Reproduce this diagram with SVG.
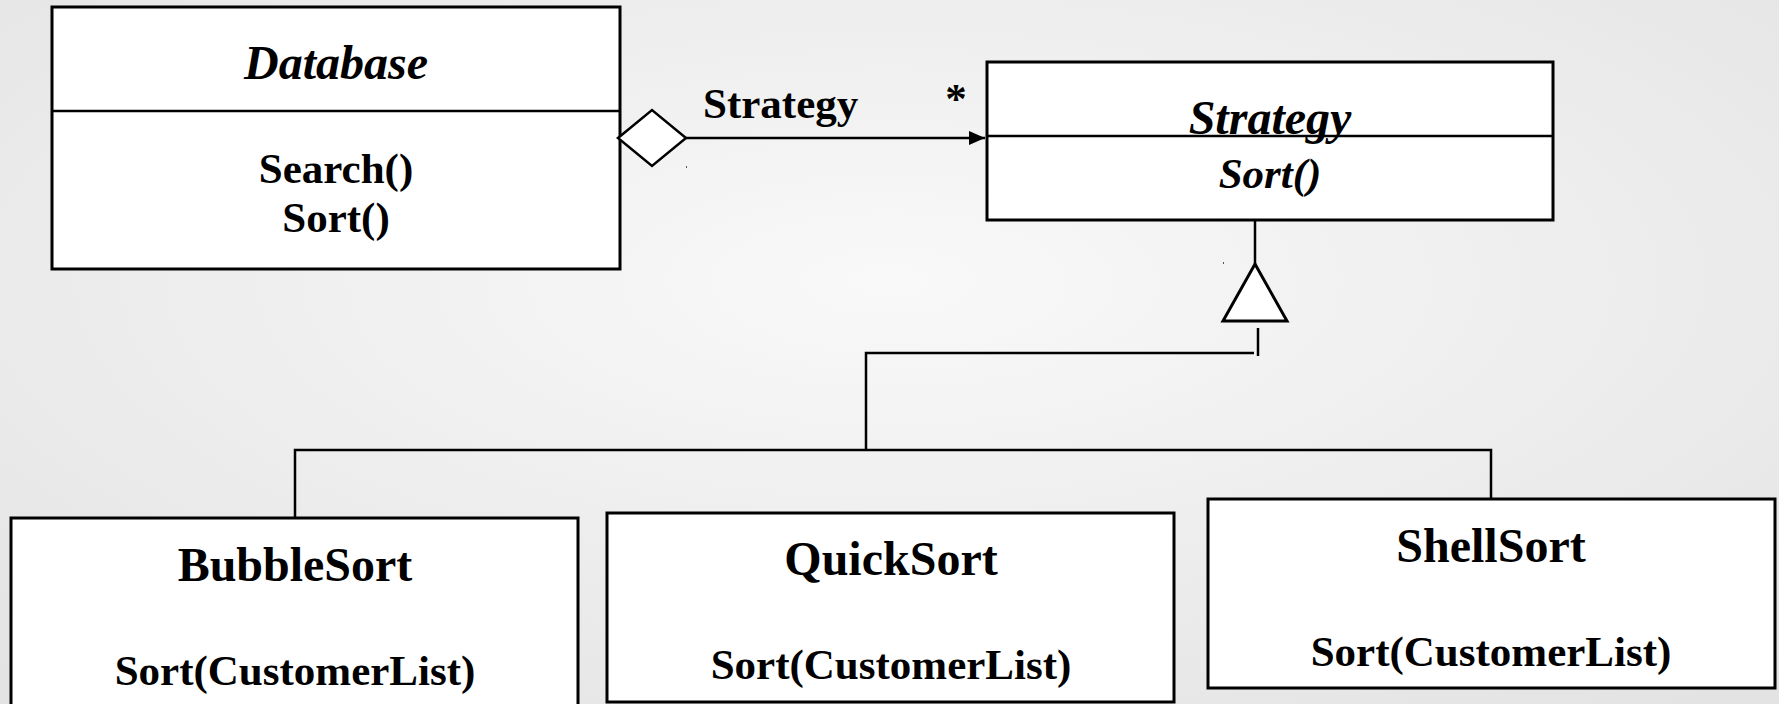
<svg xmlns="http://www.w3.org/2000/svg" width="1779" height="704" viewBox="0 0 1779 704">
<defs>
<radialGradient id="bg" cx="0.5" cy="0.4" r="0.75">
<stop offset="0" stop-color="#f9f9f9"/>
<stop offset="1" stop-color="#e3e3e3"/>
</radialGradient>
<marker id="arrow" markerWidth="16" markerHeight="14" refX="16" refY="7" orient="auto" markerUnits="userSpaceOnUse">
<path d="M0,0 L16,7 L0,14 Z" fill="#000"/>
</marker>
</defs>
<style>
.box{fill:#fff;stroke:#000;stroke-width:3}
.ln{fill:none;stroke:#000;stroke-width:2.5}
.t{font-family:"Liberation Serif","Times New Roman",serif;font-weight:bold;fill:#000;text-anchor:middle}
.ti{font-style:italic}
.s48{font-size:48px}
.s42{font-size:43px}
</style>
<rect x="0" y="0" width="1779" height="704" fill="url(#bg)"/>

<g id="connectors">
<line class="ln" x1="686" y1="138" x2="985" y2="138" marker-end="url(#arrow)"/>
<line class="ln" x1="1255" y1="220" x2="1255" y2="264"/>
<polygon points="1255,264 1287,321 1223,321" fill="#fff" stroke="#000" stroke-width="3"/>
<line class="ln" x1="1258" y1="328" x2="1258" y2="356"/>
<polyline class="ln" points="1254,353 866,353 866,450"/>
<polyline class="ln" points="295,518 295,450 1491,450 1491,499"/>
<text class="t s42" x="703" y="118" style="text-anchor:start">Strategy</text>
<text class="t s42" x="956" y="113">*</text>
<rect x="686" y="166" width="1" height="2" fill="#555"/>
<rect x="1223" y="262" width="1" height="2" fill="#555"/>
</g>

<g id="database">
<rect class="box" x="52" y="7" width="568" height="262"/>
<line class="ln" x1="52" y1="111" x2="620" y2="111"/>
<text class="t ti s48" x="336" y="79">Database</text>
<text class="t s42" x="336" y="183">Search()</text>
<text class="t s42" x="336" y="232">Sort()</text>
</g>
<polygon id="aggregation" points="618,138 652,110 686,138 652,166" fill="#fff" stroke="#000" stroke-width="2.5"/>

<g id="strategy">
<rect class="box" x="987" y="62" width="566" height="158"/>
<line class="ln" x1="987" y1="136" x2="1553" y2="136"/>
<text class="t ti s48" x="1270" y="134">Strategy</text>
<text class="t ti s42" x="1270" y="188">Sort()</text>
</g>

<g id="bubblesort">
<rect class="box" x="11" y="518" width="567" height="200"/>
<text class="t s48" x="295" y="581">BubbleSort</text>
<text class="t s42" x="295" y="685">Sort(CustomerList)</text>
</g>

<g id="quicksort">
<rect class="box" x="607" y="513" width="567" height="189"/>
<text class="t s48" x="891" y="575">QuickSort</text>
<text class="t s42" x="891" y="679">Sort(CustomerList)</text>
</g>

<g id="shellsort">
<rect class="box" x="1208" y="499" width="567" height="189"/>
<text class="t s48" x="1491" y="562">ShellSort</text>
<text class="t s42" x="1491" y="666">Sort(CustomerList)</text>
</g>
</svg>
